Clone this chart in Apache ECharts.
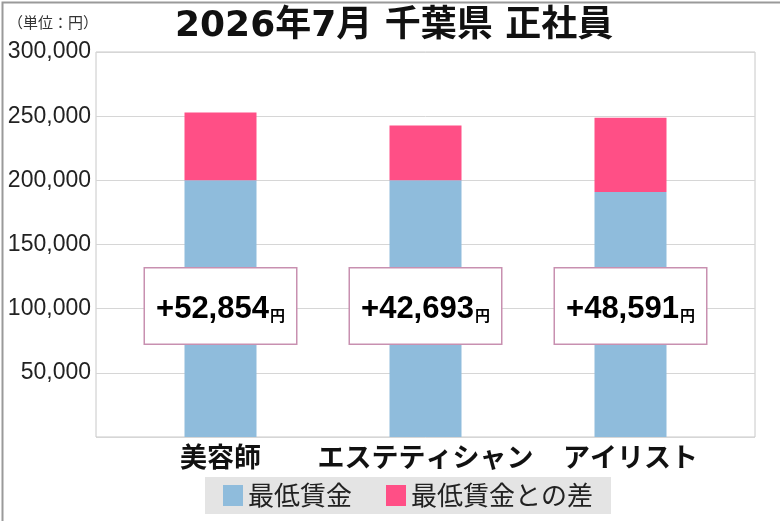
<!DOCTYPE html>
<html>
<head>
<meta charset="utf-8">
<script src="https://cdn.jsdelivr.net/npm/echarts@6/dist/echarts.min.js"></script>
<style>html,body{margin:0;padding:0;background:#fff;}#c{width:780px;height:521px;}</style>
</head>
<body>
<div id="c"></div>
<script>
const categories = ['美容師', 'エステティシャン', 'アイリスト'];
const minWage = [200000, 200000, 191000];
const diffToMin = [52854, 42693, 57800];
const diffLabels = ['+52,854', '+42,693', '+48,591'];
const yTicks = [0, 50000, 100000, 150000, 200000, 250000, 300000];
const seriesNames = ['最低賃金', '最低賃金との差'];

const chart = echarts.init(document.getElementById('c'));
const LABEL_ANCHOR = 102000;
const option = {
  animation: false,
  backgroundColor: '#fff',
  title: {
    text: '2026年7月 千葉県 正社員',
    left: 170, top: 4,
    textStyle: { fontFamily: '"DejaVu Sans", "Noto Sans CJK JP", sans-serif', fontWeight: 'bold', fontSize: 36, color: '#111' }
  },
  graphic: [
    { type: 'rect', left: 0, top: 0, shape: { width: 779, height: 520 }, style: { fill: 'none', stroke: '#9a9a9a', lineWidth: 2 }, silent: true },
    { type: 'text', left: 8, top: 15, style: { text: '（単位：円）', font: '15px "Noto Sans CJK JP"', fill: '#333' } }
  ],
  legend: {
    left: 205, top: 477,
    padding: [5, 18, 5, 18],
    backgroundColor: '#e4e4e4',
    itemWidth: 20, itemHeight: 21, itemGap: 34,
    icon: 'rect',
    data: seriesNames,
    textStyle: { fontFamily: 'Noto Sans CJK JP', fontSize: 26, color: '#222', lineHeight: 27 }
  },
  grid: [
    { left: 96, right: 25, top: 52, bottom: 84, show: true, borderColor: '#c8c8c8', borderWidth: 1 },
    { left: 118, right: 47, top: 52, bottom: 84 }
  ],
  xAxis: [
    { type: 'category', gridIndex: 0, data: categories, show: false },
    { type: 'category', gridIndex: 1, data: categories,
      axisLine: { show: false }, axisTick: { show: false },
      axisLabel: { interval: 0, margin: 6, fontFamily: 'Noto Sans CJK JP', fontWeight: 'bold', fontSize: 27, color: '#111' } }
  ],
  yAxis: [
    { type: 'value', gridIndex: 0, min: yTicks[0], max: yTicks[yTicks.length - 1], interval: yTicks[1] - yTicks[0],
      axisLine: { show: false }, axisTick: { show: false },
      splitLine: { lineStyle: { color: '#d6d6d6', width: 1 } },
      axisLabel: { margin: 5, fontFamily: '"Liberation Sans", sans-serif', fontSize: 23, color: '#222',
        formatter: v => v === 0 ? '' : v.toLocaleString('en-US') } },
    { type: 'value', gridIndex: 1, min: yTicks[0], max: yTicks[yTicks.length - 1], interval: yTicks[1] - yTicks[0], show: false, splitLine: { show: false } }
  ],
  series: [
    { name: seriesNames[0], type: 'bar', stack: 's', xAxisIndex: 1, yAxisIndex: 1, data: minWage, barWidth: 72,
      itemStyle: { color: '#8fbcdc' } },
    { name: seriesNames[1], type: 'bar', stack: 's', xAxisIndex: 1, yAxisIndex: 1, data: diffToMin, barWidth: 72,
      itemStyle: { color: '#ff4f86' } },
    { type: 'scatter', xAxisIndex: 1, yAxisIndex: 1, symbolSize: 0, silent: true, z: 10,
      itemStyle: { opacity: 1 },
      data: categories.map((c, i) => [i, LABEL_ANCHOR]),
      label: {
        show: true, position: 'inside', opacity: 1,
        formatter: p => '{n|' + diffLabels[p.dataIndex] + '}{u|円}',
        backgroundColor: '#ffffff', borderColor: '#c890b0', borderWidth: 1.5,
        width: 131, padding: [20, 10, 19, 10], align: 'center', verticalAlign: 'middle',
        rich: {
          n: { fontFamily: '"Liberation Sans", sans-serif', fontWeight: 'bold', fontSize: 31, color: '#000', verticalAlign: 'bottom', lineHeight: 36 },
          u: { fontFamily: 'Noto Sans CJK JP', fontWeight: 'bold', fontSize: 15, color: '#000', verticalAlign: 'bottom', lineHeight: 36, padding: [0, 0, 2, 1] }
        }
      }
    }
  ]
};
chart.setOption(option);
</script>
</body>
</html>
